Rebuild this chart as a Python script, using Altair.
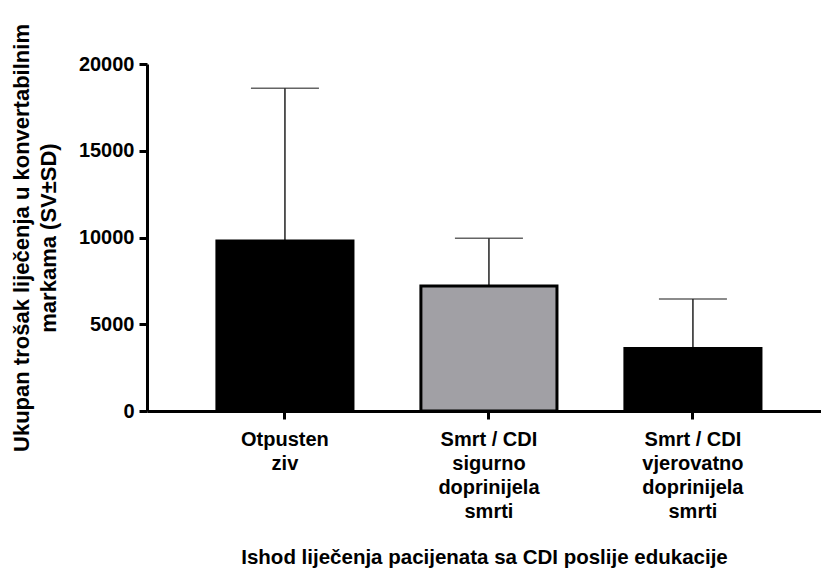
import altair as alt
import pandas as pd

categories = [
    "Otpusten\nziv",
    "Smrt / CDI\nsigurno\ndoprinijela\nsmrti",
    "Smrt / CDI\nvjerovatno\ndoprinijela\nsmrti",
]
means = [9800, 7200, 3600]
sds = [8800, 2750, 2850]
fills = ["#000000", "#a1a0a5", "#000000"]

df = pd.DataFrame({
    "cat": categories,
    "mean": means,
    "upper": [m + s for m, s in zip(means, sds)],
    "fill": fills,
})

FONT = "Liberation Sans"

x = alt.X(
    "cat:N",
    sort=categories,
    scale=alt.Scale(paddingInner=0.333, paddingOuter=0.3185, align=0.538),
    axis=alt.Axis(
        title="Ishod liječenja pacijenata sa CDI poslije edukacije",
        labelExpr="split(datum.label, '\\n')",
        labelAngle=0,
        labelLineHeight=24,
        labelPadding=10,
        titlePadding=26,
        titleFontSize=20.5,
    ),
)

y = alt.Y(
    "mean:Q",
    scale=alt.Scale(domain=[0, 20000], nice=False),
    axis=alt.Axis(
        title=["Ukupan trošak liječenja u konvertabilnim", "markama (SV±SD)"],
        values=[0, 5000, 10000, 15000, 20000],
        format="d",
        grid=False,
        titlePadding=18,
        titleLineHeight=27,
        titleFontSize=22,
    ),
)

err = alt.Chart(df).mark_rule(color="#222222", strokeWidth=1.5).encode(
    x=x, y=y, y2="upper:Q"
)
cap = alt.Chart(df).mark_tick(color="#222222", thickness=1.5, size=68).encode(
    x=x, y="upper:Q"
)
bars = alt.Chart(df).mark_bar(stroke="#000000", strokeWidth=3).encode(
    x=x, y=y, fill=alt.Fill("fill:N", scale=None)
)

chart = (
    alt.layer(err, cap, bars)
    .properties(
        width=674,
        height=347,
        autosize=alt.AutoSizeParams(type="none"),
        padding={"left": 147, "top": 64, "right": 0, "bottom": 167},
    )
    .configure_view(stroke=None)
    .configure_axis(
        labelFont=FONT,
        titleFont=FONT,
        labelFontSize=20,
        labelFontWeight="bold",
        titleFontWeight="bold",
        labelColor="#000000",
        titleColor="#000000",
        domainColor="#000000",
        tickColor="#000000",
        domainWidth=3,
        tickWidth=3,
        tickSize=8,
    )
    .configure_axisY(labelPadding=5)
)

chart.save("out.html", embed_options={"renderer": "svg", "actions": False})
